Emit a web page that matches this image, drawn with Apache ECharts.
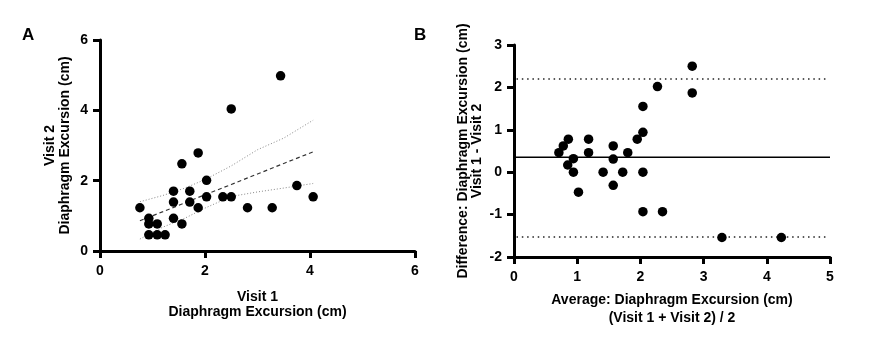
<!DOCTYPE html>
<html>
<head>
<meta charset="utf-8">
<script src="https://cdn.jsdelivr.net/npm/echarts@6/dist/echarts.min.js"></script>
<style>html,body{margin:0;padding:0;background:#fff}#c{width:875px;height:350px}</style>
</head>
<body>
<div id="c"></div>
<script>
// Panel A: Visit 1 vs Visit 2 diaphragm excursion (cm)
const visit1 = [0.76,0.93,0.93,1.09,0.93,1.09,1.24,1.40,1.40,1.40,1.56,1.56,1.71,1.71,1.87,1.87,2.03,2.03,2.34,2.50,2.50,2.81,3.28,3.44,3.75,4.06];
const visit2 = [1.23,0.93,0.77,0.77,0.46,0.46,0.46,1.70,1.39,0.93,2.48,0.77,1.70,1.39,2.79,1.23,2.01,1.54,1.54,1.54,4.04,1.23,1.23,4.98,1.86,1.54];
// regression line and confidence band
const fitX = [0.76,1.2,1.6,2.0,2.5,3.0,3.5,4.06];
const fitY = [0.86,1.12,1.36,1.60,1.89,2.19,2.49,2.82];
const bandUpper = [1.40,1.58,1.78,2.03,2.42,2.88,3.21,3.72];
const bandLower = [0.34,0.68,0.92,1.22,1.55,1.68,1.79,1.92];
const aTicks = [0,2,4,6];

// Panel B: Bland-Altman
const avgVals = [0.71,0.78,0.86,0.85,0.94,0.94,1.02,1.18,1.18,1.41,1.57,1.57,1.57,1.72,1.80,1.95,2.04,2.04,2.04,2.04,2.27,2.35,2.82,2.82,3.29,4.23];
const diffVals = [0.46,0.62,0.78,0.17,0.32,0.00,-0.47,0.78,0.46,0.00,0.62,0.31,-0.31,0.00,0.46,0.78,1.55,0.94,0.00,-0.93,2.02,-0.93,2.50,1.87,-1.54,-1.54];
const bias = 0.35;
const upperLoA = 2.20;
const lowerLoA = -1.53;
const bXRange = [0,5];

const zip = (a,b) => a.map((v,i)=>[v,b[i]]);
const font = 'Liberation Sans, Arial, sans-serif';
const axisCommon = {
  axisLine:{show:true,onZero:false,lineStyle:{color:'#000',width:3}},
  axisTick:{show:true,inside:false,length:7,lineStyle:{color:'#000',width:3}},
  axisLabel:{color:'#000',fontWeight:'bold',fontSize:14,fontFamily:font},
  splitLine:{show:false},
  nameLocation:'middle',
  nameTextStyle:{color:'#000',fontWeight:'bold',fontSize:14,fontFamily:font,lineHeight:15}
};

const chart = echarts.init(document.getElementById('c'));
chart.setOption({
  animation:false,
  backgroundColor:'#fff',
  grid:[
    {left:100,top:40,width:315,height:211},
    {left:514,top:45,width:316,height:212}
  ],
  xAxis:[
    Object.assign({},axisCommon,{gridIndex:0,type:'value',min:0,max:6,interval:2,
      name:'Visit 1\nDiaphragm Excursion (cm)',nameGap:39,
      axisLabel:Object.assign({},axisCommon.axisLabel,{margin:13})}),
    Object.assign({},axisCommon,{gridIndex:1,type:'value',min:bXRange[0],max:bXRange[1],interval:1,
      name:'Average: Diaphragm Excursion (cm)\n(Visit 1 + Visit 2) / 2',nameGap:34,
      nameTextStyle:Object.assign({},axisCommon.nameTextStyle,{lineHeight:18}),
      axisLabel:Object.assign({},axisCommon.axisLabel,{margin:13})})
  ],
  yAxis:[
    Object.assign({},axisCommon,{gridIndex:0,type:'value',min:0,max:6,interval:2,
      name:'Visit 2\nDiaphragm Excursion (cm)',nameGap:27,nameRotate:90,
      axisLabel:Object.assign({},axisCommon.axisLabel,{margin:12})}),
    Object.assign({},axisCommon,{gridIndex:1,type:'value',min:-2,max:3,interval:1,
      name:'Difference: Diaphragm Excursion (cm)\nVisit 1 - Visit 2',nameGap:30,nameRotate:90,
      nameTextStyle:Object.assign({},axisCommon.nameTextStyle,{lineHeight:14}),
      axisLabel:Object.assign({},axisCommon.axisLabel,{margin:12})})
  ],
  graphic:[
    {type:'text',left:22,top:27,style:{text:'A',font:'bold 17px '+font,fill:'#000'}},
    {type:'text',left:414,top:27,style:{text:'B',font:'bold 17px '+font,fill:'#000'}}
  ],
  series:[
    {type:'line',xAxisIndex:0,yAxisIndex:0,data:zip(fitX,bandUpper),symbol:'none',
      lineStyle:{color:'#888',width:1,type:[1,2]},z:1},
    {type:'line',xAxisIndex:0,yAxisIndex:0,data:zip(fitX,bandLower),symbol:'none',
      lineStyle:{color:'#888',width:1,type:[1,2]},z:1},
    {type:'line',xAxisIndex:0,yAxisIndex:0,data:zip(fitX,fitY),symbol:'none',
      lineStyle:{color:'#333',width:1.2,type:[4,3]},z:1},
    {type:'scatter',xAxisIndex:0,yAxisIndex:0,data:zip(visit1,visit2),symbolSize:9.5,
      itemStyle:{color:'#000',opacity:1},z:3},
    {type:'line',xAxisIndex:1,yAxisIndex:1,data:[[bXRange[0],bias],[bXRange[1],bias]],symbol:'none',
      lineStyle:{color:'#000',width:1.5},z:1},
    {type:'line',xAxisIndex:1,yAxisIndex:1,data:[[0.04,upperLoA],[bXRange[1]-0.02,upperLoA]],symbol:'none',
      lineStyle:{color:'#222',width:1.5,type:[1.5,3.8]},z:1},
    {type:'line',xAxisIndex:1,yAxisIndex:1,data:[[0.04,lowerLoA],[bXRange[1]-0.02,lowerLoA]],symbol:'none',
      lineStyle:{color:'#222',width:1.5,type:[1.5,3.8]},z:1},
    {type:'scatter',xAxisIndex:1,yAxisIndex:1,data:zip(avgVals,diffVals),symbolSize:9.5,
      itemStyle:{color:'#000',opacity:1},z:3}
  ]
});
</script>
</body>
</html>
